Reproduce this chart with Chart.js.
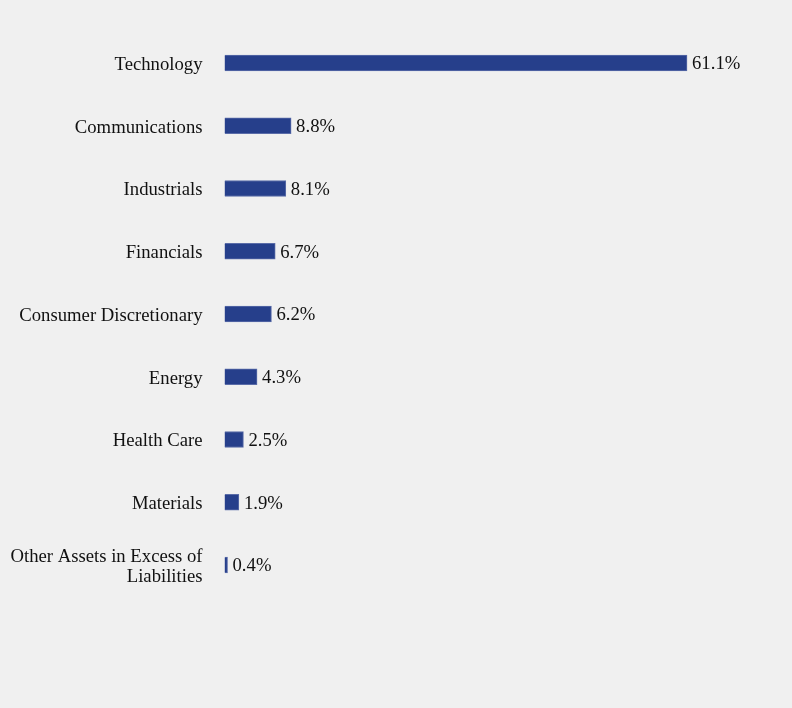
<!DOCTYPE html>
<html>
<head>
<meta charset="utf-8">
<script src="https://cdn.jsdelivr.net/npm/chart.js@4"></script>
<style>
html,body{margin:0;padding:0;background:#f0f0f0;}
#wrap{width:792px;height:708px;position:relative;}
</style>
</head>
<body>
<div id="wrap"><canvas id="c"></canvas></div>
<script>
const categories = [
  "Technology",
  "Communications",
  "Industrials",
  "Financials",
  "Consumer Discretionary",
  "Energy",
  "Health Care",
  "Materials",
  ["Other Assets in Excess of", "Liabilities"]
];
const values = [61.1, 8.8, 8.1, 6.7, 6.2, 4.3, 2.5, 1.9, 0.4];
const valueLabels = ["61.1%", "8.8%", "8.1%", "6.7%", "6.2%", "4.3%", "2.5%", "1.9%", "0.4%"];

const FONT = "'Liberation Serif', 'Times New Roman', serif";

const valueLabelPlugin = {
  id: 'valueLabels',
  afterDatasetsDraw(chart) {
    const ctx = chart.ctx;
    const meta = chart.getDatasetMeta(0);
    ctx.save();
    ctx.font = "18.7px " + FONT;
    ctx.fillStyle = '#111111';
    ctx.textAlign = 'left';
    ctx.textBaseline = 'middle';
    meta.data.forEach((bar, i) => {
      ctx.fillText(valueLabels[i], bar.x + 5, bar.y + 1.5);
    });
    ctx.restore();
  }
};

new Chart(document.getElementById('c'), {
  type: 'bar',
  data: {
    labels: categories,
    datasets: [{
      data: values,
      backgroundColor: '#263f8b',
      borderColor: '#5a6ca8',
      borderWidth: 1,
      barThickness: 16
    }]
  },
  options: {
    indexAxis: 'y',
    responsive: true,
    maintainAspectRatio: false,
    animation: false,
    layout: { padding: { top: 31.6, bottom: 111.6, left: 0, right: 37.6 } },
    plugins: { legend: { display: false }, tooltip: { enabled: false } },
    scales: {
      x: {
        display: false,
        min: 0,
        max: 70,
        grid: { display: false }
      },
      y: {
        grid: { display: false, drawTicks: false },
        border: { display: false },
        afterFit(scale) {
          scale.width = 224.5;
          scale.paddingTop = 0;
          scale.paddingBottom = 0;
        },
        ticks: {
          padding: 22,
          labelOffset: 2,
          color: '#111111',
          font: { family: FONT, size: 18.7, lineHeight: 1.05 }
        }
      }
    }
  },
  plugins: [valueLabelPlugin]
});
</script>
</body>
</html>
